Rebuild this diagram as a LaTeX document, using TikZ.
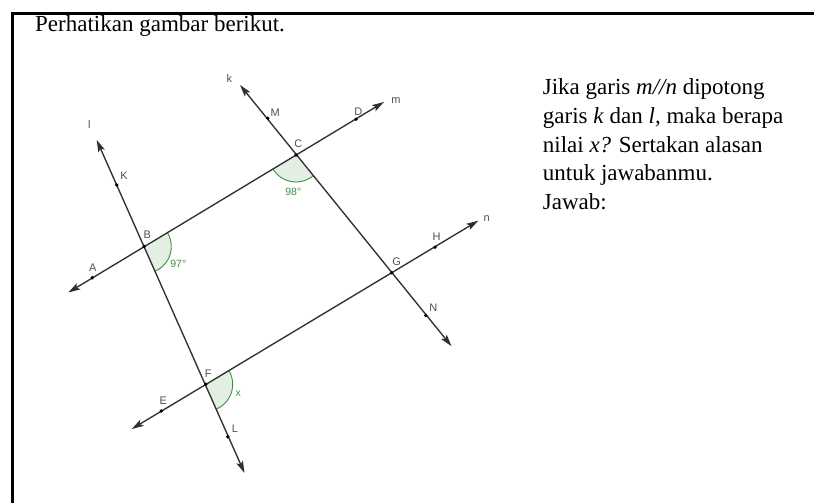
\documentclass[tikz,border=0pt]{standalone}
\usepackage{fontspec}
\setmainfont{Liberation Serif}
\newfontfamily\gblabelfont{Liberation Sans}
\usepackage{tikz}
\usetikzlibrary{arrows.meta}
\definecolor{gbline}{HTML}{303030}
\definecolor{gbgray}{HTML}{505050}
\definecolor{gbgreen}{HTML}{1E7B1E}
\tikzset{
  gbline/.style={{Stealth[length=12pt,width=7pt,inset=2.5pt]}-{Stealth[length=12pt,width=7pt,inset=2.5pt]}, line width=1.35pt, draw=gbline},
  gbdot/.style={circle, fill=black, inner sep=0pt, minimum size=3.8pt},
  gblabel/.style={font=\gblabelfont\fontsize{11}{13}\selectfont, text=gbgray, inner sep=0pt},
  gbangle/.style={draw=gbgreen!85, line width=0.9pt},
  gbanglefill/.style={fill=gbgreen!12},
  gbanglelabel/.style={font=\gblabelfont\fontsize{10.5}{12}\selectfont, text=gbgreen!85, inner sep=0pt},
  gbtext/.style={font=\fontsize{23}{28.75}\selectfont, inner sep=0pt}
}
\begin{document}
\begin{tikzpicture}[x=1pt,y=1pt]
  \useasboundingbox (0,0) rectangle (814,503);
  % frame
  \draw[line width=3.2pt] (12.5,0) -- (12.5,489.5) -- (814,489.5);
  \node[gbtext, anchor=base west] (judul) at (35,471.3) {Perhatikan gambar berikut.};
  % intersections and arrow ends
  \coordinate (pB) at (144.3,256.5);
  \coordinate (pC) at (296,348);
  \coordinate (pF) at (205.7,118.7);
  \coordinate (pG) at (391.7,230.3);
  \coordinate (m1) at (68.3,210.5);
  \coordinate (m2) at (384,401);
  \coordinate (n1) at (131.7,74);
  \coordinate (n2) at (478.3,282.3);
  \coordinate (l1) at (96.7,363);
  \coordinate (l2) at (244.5,30);
  \coordinate (k1) at (240,418);
  \coordinate (k2) at (451.5,156.8);
  % angles
  \fill[gbanglefill] (pB) -- ++(31.1:27) arc[start angle=31.1, end angle=-66, radius=27] -- cycle;
  \draw[gbangle] (pB) ++(31.1:27) arc[start angle=31.1, end angle=-66, radius=27];
  \fill[gbanglefill] (pC) -- ++(211.1:27) arc[start angle=211.1, end angle=309.1, radius=27] -- cycle;
  \draw[gbangle] (pC) ++(211.1:27) arc[start angle=211.1, end angle=309.1, radius=27];
  \fill[gbanglefill] (pF) -- ++(31:27) arc[start angle=31, end angle=-66, radius=27] -- cycle;
  \draw[gbangle] (pF) ++(31:27) arc[start angle=31, end angle=-66, radius=27];
  % lines
  \draw[gbline] (m1) -- (m2);
  \draw[gbline] (n1) -- (n2);
  \draw[gbline] (l1) -- (l2);
  \draw[gbline] (k1) -- (k2);
  % points with labels
  \foreach \nm/\x/\y/\lx/\ly in {A/92.3/225.3/92.7/235, B/144.3/256.5/147.3/268,
      C/296/348/298.3/359, D/356/383.7/358.3/391.5, K/116.7/318/124/327,
      M/267.7/384.7/275.3/390.3, E/161.3/92/163.3/102.3, F/205.7/118.7/208.3/129.7,
      G/391.7/230.3/396.7/241.3, H/435/255.7/436.7/266.3, L/227.7/66.3/235/74,
      N/425.7/187.5/433.3/195.7} {
    \node[gbdot] (\nm) at (\x,\y) {};
    \node[gblabel] (lab\nm) at (\lx,\ly) {\nm};
  }
  \node[gblabel] (labk) at (229.3,424.7) {k};
  \node[gblabel] (labl) at (89.3,378) {l};
  \node[gblabel] (labm) at (396,402) {m};
  \node[gblabel] (labn) at (486.7,284) {n};
  \node[gbanglelabel] (sudutB) at (178.3,239) {97°};
  \node[gbanglelabel] (sudutC) at (293.3,311.3) {98°};
  \node[gbanglelabel] (sudutF) at (238.3,109) {x};
  % question
  \node[gbtext, anchor=north west, align=left] (soal) at (542.7,424.5)
    {Jika garis \textit{m//n} dipotong\\garis \textit{k} dan \textit{l,} maka berapa\\nilai \textit{x?} Sertakan alasan\\untuk jawabanmu.\\Jawab:};
\end{tikzpicture}
\end{document}
